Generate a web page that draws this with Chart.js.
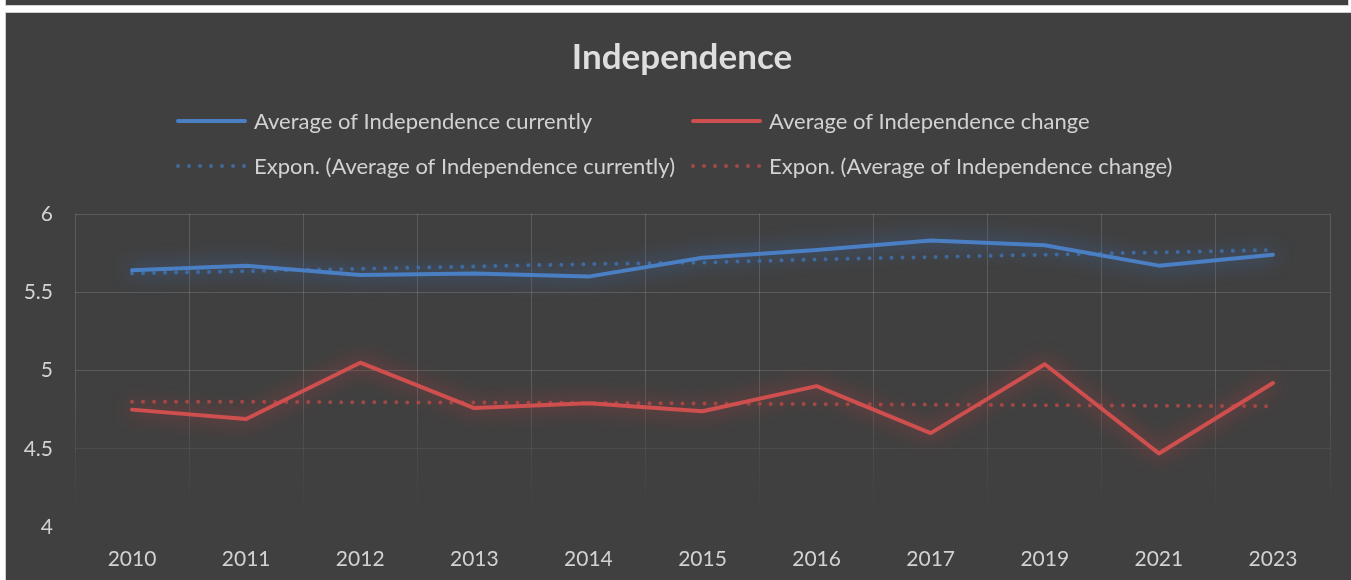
<!DOCTYPE html>
<html lang="en">
  <head>
    <title>Independence</title>
    <meta charset="utf-8">
    <script type="text/javascript" src="https://cdn.jsdelivr.net/npm/chart.js@4.4.1/dist/chart.umd.min.js"></script>
    <style>
      body { margin: 0; background: #ffffff; width: 1351px; height: 580px; overflow: hidden; position: relative; }
      #strip { position: absolute; left: 5px; top: 0; width: 1342px; height: 5px; background: #404040; border: 1px solid #d4d4d4; border-top: none; }
      #box { position: absolute; left: 5px; top: 12px; width: 1345px; height: 567px; background: #404040; border-top: 1px solid #cfcfcf; border-left: 1px solid #cfcfcf; }
      #chart { display: block; }
    </style>
  </head>
  <body>
    <div id="strip"></div>
    <div id="box"><canvas id="chart" width="1345" height="567"></canvas></div>

    <script language="javascript" type="text/javascript">

      // data
      years = ["2010", "2011", "2012", "2013", "2014", "2015", "2016", "2017", "2019", "2021", "2023"];
      currently = [5.64, 5.67, 5.61, 5.62, 5.60, 5.72, 5.77, 5.83, 5.80, 5.67, 5.74];
      change = [4.75, 4.69, 5.05, 4.76, 4.79, 4.74, 4.90, 4.60, 5.04, 4.47, 4.92];
      trendCurrently = [5.62, 5.635, 5.65, 5.665, 5.68, 5.69, 5.71, 5.725, 5.74, 5.755, 5.77];
      trendChange = [4.80, 4.80, 4.797, 4.795, 4.793, 4.789, 4.785, 4.782, 4.778, 4.775, 4.772];
      yTicks = [4, 4.5, 5, 5.5, 6];
      chartTitle = "Independence";

      FONT = "Lato";
      Chart.defaults.color = "#d2d2d2";
      Chart.defaults.font.family = FONT;

      // grid fades out towards the bottom of the plot
      function gridColor(ctx)
      {
        let area = ctx.chart.chartArea;
        if( !area ) return "rgba(255,255,255,0.12)";
        let g = ctx.chart.ctx.createLinearGradient(0, area.top, 0, area.bottom);
        g.addColorStop(0, "rgba(255,255,255,0.14)");
        g.addColorStop(0.55, "rgba(255,255,255,0.14)");
        g.addColorStop(0.78, "rgba(255,255,255,0.05)");
        g.addColorStop(0.97, "rgba(255,255,255,0)");
        g.addColorStop(1, "rgba(255,255,255,0)");
        return g;
      }

      // soft glow round the solid lines
      glowPlugin = {
        id: "glow",
        beforeDatasetDraw(chart, args) {
          let ds = chart.data.datasets[args.index];
          chart.ctx.save();
          if( ds.glow ) {
            chart.ctx.shadowColor = ds.glow;
            chart.ctx.shadowBlur = 20;
          }
        },
        afterDatasetDraw(chart, args) {
          chart.ctx.restore();
        }
      };

      // title + two column legend, laid out like the office one
      legendCols = [170, 685];
      legendRows = [108, 153];
      legendLen = 71;
      legendPlugin = {
        id: "gridLegend",
        afterDraw(chart) {
          let ctx = chart.ctx;
          ctx.save();
          ctx.fillStyle = "#dedede";
          ctx.font = "bold 35px " + FONT;
          ctx.textAlign = "center";
          ctx.textBaseline = "middle";
          ctx.fillText(chartTitle, 676, 45);

          chart.data.datasets.forEach(function(ds, i) {
            let col = i % 2, row = Math.floor(i / 2);
            let x = legendCols[col], y = legendRows[row];
            ctx.strokeStyle = ds.borderColor;
            ctx.lineWidth = 4;
            ctx.lineCap = "round";
            ctx.setLineDash(ds.borderDash || []);
            ctx.beginPath();
            ctx.moveTo(x + 2, y);
            ctx.lineTo(x + legendLen - 2, y);
            ctx.stroke();
            ctx.setLineDash([]);
            ctx.fillStyle = "#d2d2d2";
            ctx.font = "22px " + FONT;
            ctx.textBaseline = "middle";
            ctx.textAlign = "left";
            ctx.fillText(ds.label, x + legendLen + 7, y + 1);
          });
          ctx.restore();
        }
      };

      chart = new Chart("chart", {
        type: "line",
        data: {
          labels: years,
          datasets: [
            {
              label: "Average of Independence currently",
              data: currently,
              borderColor: "#4a7fc4",
              glow: "rgba(60,115,195,1)",
              borderWidth: 4,
              pointRadius: 0,
              borderCapStyle: "round",
              borderJoinStyle: "round"
            },
            {
              label: "Average of Independence change",
              data: change,
              borderColor: "#cf4f4f",
              glow: "rgba(195,60,60,1)",
              borderWidth: 4,
              pointRadius: 0,
              borderCapStyle: "round",
              borderJoinStyle: "round"
            },
            {
              label: "Expon. (Average of Independence currently)",
              data: trendCurrently,
              borderColor: "#41699c",
              borderWidth: 4,
              borderDash: [0.01, 11],
              borderCapStyle: "round",
              pointRadius: 0
            },
            {
              label: "Expon. (Average of Independence change)",
              data: trendChange,
              borderColor: "#a34848",
              borderWidth: 4,
              borderDash: [0.01, 11],
              borderCapStyle: "round",
              pointRadius: 0
            }
          ]
        },
        options: {
          responsive: false,
          animation: false,
          layout: { padding: { left: 0, right: 21, top: 201, bottom: 0 } },
          plugins: {
            legend: { display: false },
            tooltip: { enabled: false },
            title: { display: false }
          },
          scales: {
            x: {
              offset: true,
              grid: { offset: true, color: gridColor, lineWidth: 1, drawTicks: false },
              border: { display: false },
              ticks: { padding: 20, font: { size: 21 }, color: "#d2d2d2" },
              afterFit: function(s) { s.height = 53; }
            },
            y: {
              min: 4,
              max: 6,
              afterBuildTicks: function(s) { s.ticks = yTicks.map(v => ({ value: v })); },
              grid: { color: gridColor, lineWidth: 1, drawTicks: false },
              border: { display: false },
              ticks: { padding: 22, font: { size: 21 }, color: "#d2d2d2", callback: v => String(v) },
              afterFit: function(s) { s.width = 69; }
            }
          }
        },
        plugins: [glowPlugin, legendPlugin]
      });

    </script>
  </body>
</html>
